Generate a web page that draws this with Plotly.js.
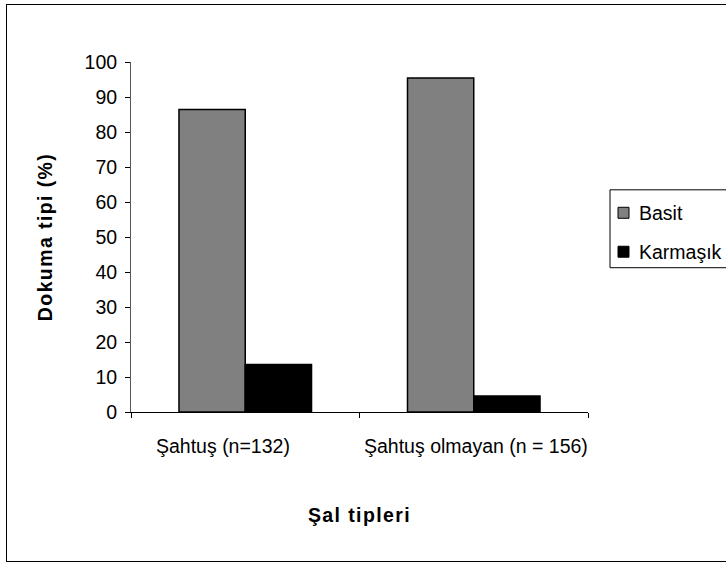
<!DOCTYPE html>
<html>
<head>
<meta charset="utf-8">
<script src="https://cdn.plot.ly/plotly-3.0.1.min.js"></script>
<style>
  html, body { margin: 0; padding: 0; background: #fff; }
  #wrap { position: relative; width: 726px; height: 563px; overflow: hidden; }
  #chart { width: 726px; height: 563px; }
  /* outer chart frame */
  #frame { position: absolute; left: 6px; top: 4px; width: 740px; height: 558px;
           border: 1.5px solid #000; pointer-events: none; box-sizing: border-box; }
  /* slightly spaced bold axis titles */
  .xtitle, .ytitle { letter-spacing: 1.4px; }
</style>
</head>
<body>
<div id="wrap">
  <div id="chart"></div>
  <div id="frame"></div>
</div>
<script>
// Shawl types on the x axis
const categories = ['Şahtuş (n=132)', 'Şahtuş olmayan (n = 156)'];
// Weave type shares (%)
const basit = [86.4, 95.4];
const karmasik = [13.6, 4.6];
const seriesNames = ['Basit', 'Karmaşık'];
const yTicks = [0, 10, 20, 30, 40, 50, 60, 70, 80, 90, 100];

const W = 726, H = 563;
const M = { l: 131, r: 138, t: 62, b: 150.5 };
const plotW = W - M.l - M.r, plotH = H - M.t - M.b;
// pixel -> paper coordinates (for the boxed legend and category labels)
const px = v => (v - M.l) / plotW;
const py = v => (H - M.b - v) / plotH;

const font = { family: 'Liberation Sans, Arial, sans-serif', size: 19.5, color: '#000' };
const colors = ['#808080', '#000000'];

const traces = [basit, karmasik].map((vals, i) => ({
  type: 'bar', name: seriesNames[i], x: categories, y: vals,
  marker: { color: colors[i], line: { color: '#000', width: 1.5 } },
  hoverinfo: 'none', showlegend: false
}));

// Legend: framed box with square swatches and labels
const legendRows = [213, 252];
const shapes = [
  { type: 'rect', xref: 'paper', yref: 'paper',
    x0: px(610), x1: px(760), y0: py(268), y1: py(190),
    line: { color: '#000', width: 1 }, fillcolor: '#fff', layer: 'above' }
];
const annotations = [];
seriesNames.forEach((name, i) => {
  const cy = legendRows[i];
  shapes.push({ type: 'rect', xref: 'paper', yref: 'paper',
    x0: px(618), x1: px(629), y0: py(cy + 5.5), y1: py(cy - 5.5),
    line: { color: '#000', width: 1 }, fillcolor: colors[i], layer: 'above' });
  annotations.push({ xref: 'paper', yref: 'paper', x: px(637), y: py(cy),
    xanchor: 'left', yanchor: 'middle', showarrow: false, text: name,
    font: font });
});

// Category labels under the axis (first one sits a little left of its slot)
const labelShift = [-22, 2];
categories.forEach((c, i) => {
  annotations.push({ xref: 'x', yref: 'paper', x: c, y: py(447),
    xshift: labelShift[i], xanchor: 'center', yanchor: 'middle',
    showarrow: false, text: c, font: font });
});

const layout = {
  width: W, height: H,
  margin: { ...M, autoexpand: false },
  paper_bgcolor: '#fff', plot_bgcolor: '#fff',
  font: font,
  barmode: 'group', bargap: 0.42, bargroupgap: 0,
  showlegend: false,
  shapes: shapes,
  annotations: annotations,
  xaxis: {
    type: 'category', range: [-0.5, 1.5], automargin: false,
    showline: true, linecolor: '#000', linewidth: 1,
    ticks: 'outside', tickson: 'boundaries', ticklen: 5, tickcolor: '#000',
    showticklabels: false,
    showgrid: false, zeroline: false,
    tickfont: font,
    title: { text: '<b>Şal tipleri</b>', font: font, standoff: 96 }
  },
  yaxis: {
    range: [0, 100], tickvals: yTicks, ticktext: yTicks.map(String),
    automargin: false,
    showline: true, linecolor: '#555', linewidth: 1,
    ticks: 'outside', ticklen: 5, tickcolor: '#000',
    ticklabelstandoff: 4,
    showgrid: false, zeroline: false,
    tickfont: font,
    title: { text: '<b>Dokuma tipi (%)</b>', font: font, standoff: 26 }
  }
};

Plotly.newPlot('chart', traces, layout, { staticPlot: true, displayModeBar: false });
</script>
</body>
</html>
